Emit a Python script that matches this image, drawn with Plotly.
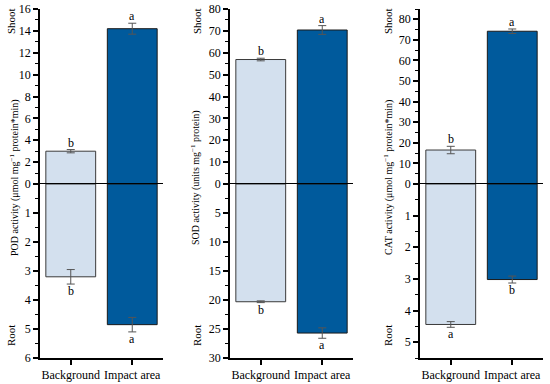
import plotly.graph_objects as go

categories = ["Background", "Impact area"]

pod_shoot = [3.0, 14.2]
pod_shoot_err = [0.15, 0.5]
pod_root = [3.2, 4.85]
pod_root_err = [0.25, 0.25]
pod_shoot_letters = ["b", "a"]
pod_root_letters = ["b", "a"]

sod_shoot = [56.9, 70.4]
sod_shoot_err = [0.6, 2.0]
sod_root = [20.3, 25.7]
sod_root_err = [0.15, 0.9]
sod_shoot_letters = ["b", "a"]
sod_root_letters = ["b", "a"]

cat_shoot = [16.5, 74.2]
cat_shoot_err = [1.8, 1.1]
cat_root = [4.44, 3.02]
cat_root_err = [0.09, 0.11]
cat_shoot_letters = ["b", "a"]
cat_root_letters = ["a", "b"]

titles = ["POD activity (μmol mg<sup>−1</sup> protein*min)",
          "SOD activity (units mg<sup>−1</sup> protein)",
          "CAT activity (μmol mg<sup>−1</sup> protein*min)"]

panels = [
    dict(shoot=pod_shoot, se=pod_shoot_err, root=pod_root, re=pod_root_err,
         sl=pod_shoot_letters, rl=pod_root_letters,
         top_range=[0, 16], top_ticks=list(range(0, 17, 2)), top_minor=list(range(1, 16, 2)),
         bot_range=[6, 0], bot_ticks=[1, 2, 3, 4, 5, 6], bot_minor=[0.5, 1.5, 2.5, 3.5, 4.5, 5.5]),
    dict(shoot=sod_shoot, se=sod_shoot_err, root=sod_root, re=sod_root_err,
         sl=sod_shoot_letters, rl=sod_root_letters,
         top_range=[0, 80], top_ticks=list(range(0, 81, 10)), top_minor=list(range(5, 80, 10)),
         bot_range=[30, 0], bot_ticks=[5, 10, 15, 20, 25, 30], bot_minor=[2.5, 7.5, 12.5, 17.5, 22.5, 27.5]),
    dict(shoot=cat_shoot, se=cat_shoot_err, root=cat_root, re=cat_root_err,
         sl=cat_shoot_letters, rl=cat_root_letters,
         top_range=[0, 85], top_ticks=list(range(0, 81, 10)), top_minor=list(range(5, 86, 10)),
         bot_range=[5.5, 0], bot_ticks=[1, 2, 3, 4, 5], bot_minor=[0.5, 1.5, 2.5, 3.5, 4.5, 5.5]),
]

W, H = 550, 384
xdoms = [[40 / W, 163 / W], [230 / W, 353 / W], [420 / W, 543 / W]]
ytop = [1 - 184 / H, 1 - 9 / H]
ybot = [1 - 358 / H, 1 - 184 / H]
title_x = [14, 195, 388]
shoot_x = [11, 197, 388]

light = "#d3e0ee"
dark = "#005a9c"
colors = [light, dark]
lines = ["#3a3a3a", "#1a1a1a"]
FAM = "Liberation Serif, Times New Roman, serif"


def F(size):
    return dict(family=FAM, size=size, color="black")


fig = go.Figure()
layout = dict(width=W, height=H, margin=dict(l=0, r=0, t=0, b=0, autoexpand=False),
              template="none",
              paper_bgcolor="white", plot_bgcolor="white", showlegend=False,
              bargap=0.19, font=F(12))
annotations = []
shapes = []

for i, p in enumerate(panels):
    nt = 2 * i + 1
    nb = 2 * i + 2
    xt = "x" if nt == 1 else f"x{nt}"
    yt = "y" if nt == 1 else f"y{nt}"
    xb, yb = f"x{nb}", f"y{nb}"
    fig.add_trace(go.Bar(x=categories, y=p["shoot"], xaxis=xt, yaxis=yt,
                         marker=dict(color=colors, line=dict(color=lines, width=1)),
                         error_y=dict(type="data", array=p["se"], color="#555555", thickness=1, width=4)))
    fig.add_trace(go.Bar(x=categories, y=p["root"], xaxis=xb, yaxis=yb,
                         marker=dict(color=colors, line=dict(color=lines, width=1)),
                         error_y=dict(type="data", array=p["re"], color="#555555", thickness=1, width=4)))
    kt = "xaxis" if nt == 1 else f"xaxis{nt}"
    kyt = "yaxis" if nt == 1 else f"yaxis{nt}"
    layout[kt] = dict(domain=xdoms[i], anchor=yt, range=[-0.5, 1.5], visible=False,
                      automargin=False)
    layout[f"xaxis{nb}"] = dict(domain=xdoms[i], anchor=yb, range=[-0.5, 1.5],
                                showline=True, linecolor="black", linewidth=1.5,
                                ticks="outside", ticklen=5, tickwidth=1.5, tickcolor="black",
                                tickfont=F(12), showgrid=False, zeroline=False, automargin=False)
    common = dict(showline=True, linecolor="black", linewidth=1.5, ticks="outside",
                  ticklen=5, tickwidth=1.5, tickcolor="black", showgrid=False,
                  zeroline=False, tickfont=F(12), tickmode="array", automargin=False)
    layout[kyt] = dict(domain=ytop, anchor=xt, range=p["top_range"], tickvals=p["top_ticks"],
                       minor=dict(tickvals=p["top_minor"], ticks="outside", ticklen=3,
                                  tickwidth=1.2, tickcolor="black", showgrid=False), **common)
    layout[f"yaxis{nb}"] = dict(domain=ybot, anchor=xb, range=p["bot_range"], tickvals=p["bot_ticks"],
                                minor=dict(tickvals=p["bot_minor"], ticks="outside", ticklen=3,
                                           tickwidth=1.2, tickcolor="black", showgrid=False), **common)
    shapes.append(dict(type="line", xref=f"{xt} domain", yref=yt, x0=0, x1=1, y0=0, y1=0,
                       line=dict(color="black", width=2)))
    for j, c in enumerate(categories):
        annotations.append(dict(x=c, y=p["shoot"][j] + p["se"][j], xref=xt, yref=yt,
                                text=p["sl"][j], showarrow=False, yanchor="bottom",
                                font=F(12), yshift=-2))
        annotations.append(dict(x=c, y=p["root"][j] + p["re"][j], xref=xb, yref=yb,
                                text=p["rl"][j], showarrow=False, yanchor="top",
                                font=F(12), yshift=2))
    annotations.append(dict(x=title_x[i] / W, y=1 - 178 / H, xref="paper", yref="paper",
                            text=titles[i], textangle=-90, showarrow=False,
                            xanchor="center", yanchor="middle", font=F(10)))
    annotations.append(dict(x=shoot_x[i] / W, y=1 - 21 / H, xref="paper", yref="paper",
                            text="Shoot", textangle=-90, showarrow=False,
                            xanchor="center", yanchor="middle", font=F(11)))
    annotations.append(dict(x=shoot_x[i] / W, y=1 - 336 / H, xref="paper", yref="paper",
                            text="Root", textangle=-90, showarrow=False,
                            xanchor="center", yanchor="middle", font=F(11)))

layout["annotations"] = annotations
layout["shapes"] = shapes
fig.update_layout(**layout)
fig.write_html("out.html", config={"displayModeBar": False},
               post_script="document.body.style.margin='0px';document.body.style.overflow='hidden';")
